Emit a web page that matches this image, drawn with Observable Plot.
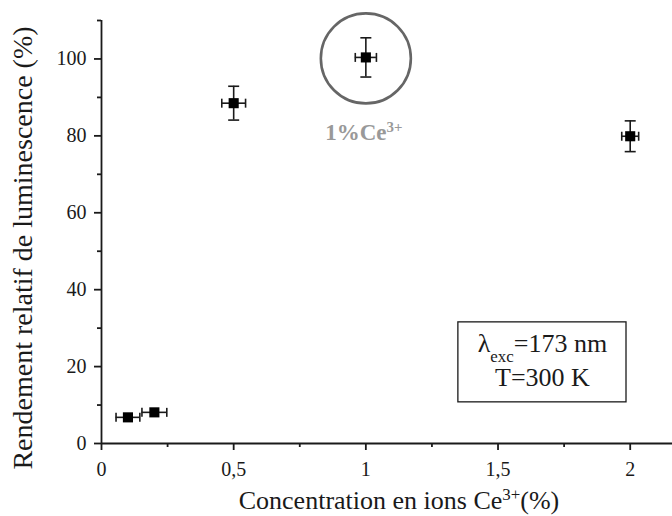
<!DOCTYPE html>
<html>
<head>
<meta charset="utf-8">
<script src="https://cdn.jsdelivr.net/npm/d3@7"></script>
<script src="https://cdn.jsdelivr.net/npm/@observablehq/plot@0.6"></script>
<style>
  html, body { margin: 0; padding: 0; background: #fff; }
  #chart svg { display: block; }
  #chart svg text { font-family: "Liberation Serif", serif; }
</style>
</head>
<body>
<div id="chart"></div>
<script>
// ---- data ----
const concentrations = [0.1, 0.2, 0.5, 1.0, 2.0];
const yields = [6.8, 8.1, 88.5, 100.4, 79.9];
const concErrors = [0.045, 0.047, 0.045, 0.04, 0.032];
const yieldErrors = [0, 0, 4.4, 5.1, 4.0];
const xMajorTicks = [0, 0.5, 1, 1.5, 2];
const xMinorTicks = [0.25, 0.75, 1.25, 1.75];
const yMajorTicks = [0, 20, 40, 60, 80, 100];
const yMinorTicks = [10, 30, 50, 70, 90, 110];
const xLabel = "Concentration en ions Ce^{3+}(%)";
const yLabel = "Rendement relatif de luminescence (%)";
const highlightLabel = "1%Ce^{3+}";
const highlightIndex = 3;
const boxLines = ["λ_{exc}=173 nm", "T=300 K"];

// annotation placement (data units)
const boxX1 = 1.35, boxX2 = 1.986, boxY1 = 10.7, boxY2 = 31.5;
const boxTextX = 1.668, boxLineY = [25.9, 17.0];

const pts = concentrations.map((x, i) => ({x, y: yields[i], ex: concErrors[i], ey: yieldErrors[i]}));
const fmt = d => String(d).replace(".", ",");

const hCap = {draw(ctx, size) { const r = Math.sqrt(size / Math.PI); ctx.moveTo(-r, 0); ctx.lineTo(r, 0); }};
const vCap = {draw(ctx, size) { const r = Math.sqrt(size / Math.PI); ctx.moveTo(0, -r); ctx.lineTo(0, r); }};

const ink = "#1a1a1a";
const serif = "'Liberation Serif', serif";
const withY = pts.filter(d => d.ey > 0);

const chart = Plot.plot({
  width: 672,
  height: 516,
  marginLeft: 101,
  marginRight: 0,
  marginTop: 20,
  marginBottom: 73,
  style: {fontFamily: serif, background: "#fff", color: ink},
  x: {domain: [0, 2.16]},
  y: {domain: [0, 110]},
  marks: [
    Plot.rect([0], {x1: () => boxX1, x2: () => boxX2, y1: () => boxY1, y2: () => boxY2, fill: "#fff", stroke: ink, strokeWidth: 1.3}),
    Plot.axisX({ticks: xMajorTicks, tickFormat: fmt, tickSize: 7, tickPadding: 11, fontSize: 20, fontFamily: serif, label: null, strokeWidth: 1.8, stroke: ink, fill: ink}),
    Plot.axisX({ticks: xMinorTicks, tickFormat: () => "", tickSize: 4, label: null, strokeWidth: 1.8, stroke: ink}),
    Plot.axisY({ticks: yMajorTicks, tickSize: 7, tickPadding: 8, fontSize: 20, fontFamily: serif, label: null, strokeWidth: 1.8, stroke: ink, fill: ink}),
    Plot.axisY({ticks: yMinorTicks, tickFormat: () => "", tickSize: 4, label: null, strokeWidth: 1.8, stroke: ink}),
    Plot.ruleX([0], {stroke: ink, strokeWidth: 1.8}),
    Plot.ruleY([0], {stroke: ink, strokeWidth: 1.8}),
    // error bars
    Plot.ruleX(withY, {x: "x", y1: d => d.y - d.ey, y2: d => d.y + d.ey, stroke: ink, strokeWidth: 1.6}),
    Plot.ruleY(pts, {y: "y", x1: d => d.x - d.ex, x2: d => d.x + d.ex, stroke: ink, strokeWidth: 1.6}),
    Plot.dot(withY, {x: "x", y: d => d.y + d.ey, symbol: hCap, r: 5.5, stroke: ink, strokeWidth: 1.6}),
    Plot.dot(withY, {x: "x", y: d => d.y - d.ey, symbol: hCap, r: 5.5, stroke: ink, strokeWidth: 1.6}),
    Plot.dot(pts, {x: d => d.x - d.ex, y: "y", symbol: vCap, r: 4.5, stroke: ink, strokeWidth: 1.6}),
    Plot.dot(pts, {x: d => d.x + d.ex, y: "y", symbol: vCap, r: 4.5, stroke: ink, strokeWidth: 1.6}),
    Plot.dot(pts, {x: "x", y: "y", symbol: "square", r: 5.7, fill: "#000", stroke: "none"}),
    // highlight circle + label
    Plot.dot([pts[highlightIndex]], {x: "x", y: "y", r: 45, stroke: "#666", strokeWidth: 2.6, fill: "none", dy: 1}),
    Plot.text([pts[highlightIndex]], {x: "x", y: "y", text: () => highlightLabel, dy: 75, dx: -2, fontSize: 23, fontWeight: "bold", fontFamily: serif, fill: "#999"}),
    // box text
    Plot.text([boxLines[0]], {x: () => boxTextX, y: () => boxLineY[0], fontSize: 26, fontFamily: serif, fill: ink}),
    Plot.text([boxLines[1]], {x: () => boxTextX, y: () => boxLineY[1], fontSize: 26, fontFamily: serif, fill: ink}),
    // axis titles
    Plot.text([yLabel], {frameAnchor: "left", textAnchor: "middle", lineAnchor: "middle", rotate: -90, dx: -78, dy: 16, fontSize: 28, fontFamily: serif, fill: ink}),
    Plot.text([xLabel], {frameAnchor: "bottom", textAnchor: "middle", lineAnchor: "middle", dx: 12, dy: 57, fontSize: 26, fontFamily: serif, fill: ink})
  ]
});

// turn ^{..} and _{..} into super/subscript tspans
function richify(svg) {
  const ns = "http://www.w3.org/2000/svg";
  svg.querySelectorAll("text, tspan").forEach(el => {
    if (el.children.length) return;
    const s = el.textContent;
    if (!/[\^_]\{/.test(s)) return;
    el.textContent = "";
    const re = /([\^_])\{([^}]*)\}/g;
    let last = 0, m;
    while ((m = re.exec(s))) {
      if (m.index > last) el.appendChild(document.createTextNode(s.slice(last, m.index)));
      const t = document.createElementNS(ns, "tspan");
      t.setAttribute("baseline-shift", m[1] === "^" ? "super" : "sub");
      t.setAttribute("font-size", "65%");
      t.textContent = m[2];
      el.appendChild(t);
      last = re.lastIndex;
    }
    if (last < s.length) el.appendChild(document.createTextNode(s.slice(last)));
  });
}
richify(chart);
document.getElementById("chart").appendChild(chart);
</script>
</body>
</html>
